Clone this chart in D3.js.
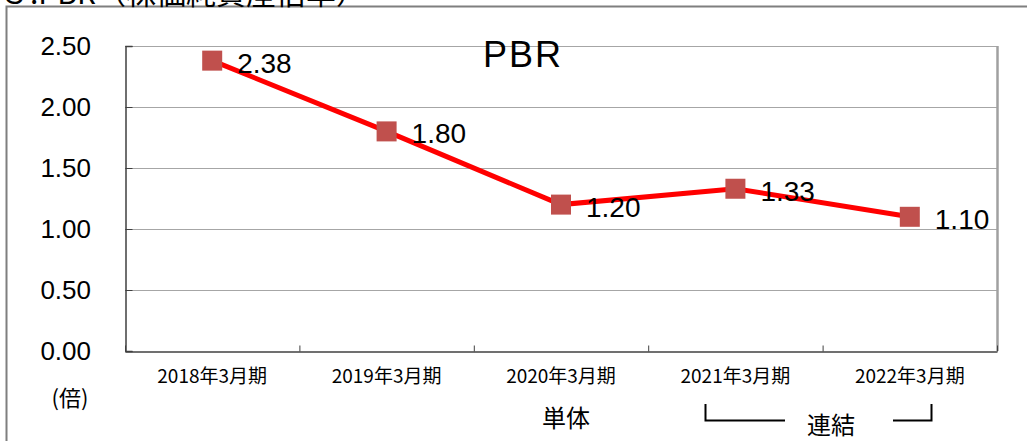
<!DOCTYPE html>
<html>
  <head>
    <meta charset="UTF-8" />
    <style>
      body { margin: 0; background: #fff; }
      svg { display: block; }
      text { font-family: "Liberation Sans", Arial, sans-serif; }
      .jp { font-family: "Noto Sans CJK JP", sans-serif; }
    </style>
  </head>
  <body>
    <svg></svg>
    <script src="https://d3js.org/d3.v7.min.js"></script>
    <script>
      let width = 1027,
        height = 441;

      // chart data
      let periods = ["2018年3月期", "2019年3月期", "2020年3月期", "2021年3月期", "2022年3月期"];
      let pbr = [2.38, 1.8, 1.2, 1.33, 1.1];
      let yTicks = [0, 0.5, 1, 1.5, 2, 2.5];

      let margin = { left: 125, right: 30, top: 46, bottom: 90 };

      let svg = d3.select("svg").attr("width", width).attr("height", height);

      // outer frame, cut at the top and right
      svg.append("path")
        .attr("d", "M6.5,441V6.5H1030")
        .attr("fill", "none")
        .attr("stroke", "#7f7f7f")
        .attr("stroke-width", 2);

      // heading cut off by the frame (as in the source picture)
      svg.append("text")
        .attr("class", "jp")
        .attr("x", 0)
        .attr("y", 4)
        .attr("font-size", 30)
        .attr("fill", "#000")
        .text("３.PBR（株価純資産倍率）");

      let x = d3.scaleBand()
        .domain(periods)
        .range([margin.left, width - margin.right]);

      let y = d3.scaleLinear()
        .domain([0, 2.5])
        .range([height - margin.bottom, margin.top]);

      // gridlines
      svg.append("g")
        .selectAll("line")
        .data(yTicks.filter((d) => d > 0))
        .join("line")
        .attr("x1", margin.left)
        .attr("x2", width - margin.right)
        .attr("y1", (d) => Math.round(y(d)) + 0.5)
        .attr("y2", (d) => Math.round(y(d)) + 0.5)
        .attr("stroke", "#a6a6a6")
        .attr("stroke-width", 1);

      // right border of plot area
      svg.append("line")
        .attr("x1", width - margin.right + 0.5)
        .attr("x2", width - margin.right + 0.5)
        .attr("y1", y(2.5))
        .attr("y2", y(0))
        .attr("stroke", "#a0a0a0")
        .attr("stroke-width", 2.5);

      // y axis
      let yAxis = svg.append("g")
        .attr("transform", `translate(${margin.left + 0.5},0)`)
        .call(d3.axisRight(y).tickValues(yTicks).tickSize(7).tickFormat(""));
      yAxis.select(".domain").attr("stroke", "#404040").attr("stroke-width", 1.5);
      yAxis.selectAll(".tick line").attr("stroke", "#404040");

      svg.append("g")
        .selectAll("text")
        .data(yTicks)
        .join("text")
        .attr("x", 91)
        .attr("y", (d) => y(d))
        .attr("dy", "0.36em")
        .attr("text-anchor", "end")
        .attr("font-size", 26)
        .text((d) => d.toFixed(2));

      // x axis with ticks between categories
      let xAxis = svg.append("g")
        .attr("transform", `translate(0,${Math.round(y(0)) + 0.5})`)
        .call(
          d3.axisTop(d3.scaleLinear().domain([0, periods.length]).range(x.range()))
            .ticks(periods.length)
            .tickSize(6)
            .tickSizeOuter(0)
            .tickFormat("")
        );
      xAxis.select(".domain").attr("stroke", "#404040").attr("stroke-width", 1.5);
      xAxis.selectAll(".tick line").attr("stroke", "#404040");

      svg.append("g")
        .selectAll("text")
        .data(periods)
        .join("text")
        .attr("class", "jp")
        .attr("x", (d) => x(d) + x.bandwidth() / 2)
        .attr("y", 383)
        .attr("text-anchor", "middle")
        .attr("font-size", 19)
        .text((d) => d);

      // title
      svg.append("text")
        .attr("x", 523)
        .attr("y", 67)
        .attr("text-anchor", "middle")
        .attr("font-size", 36)
        .attr("letter-spacing", 2)
        .text("PBR");

      // line
      let line = d3.line()
        .x((d, i) => x(periods[i]) + x.bandwidth() / 2)
        .y((d) => y(d));

      svg.append("path")
        .datum(pbr)
        .attr("d", line)
        .attr("fill", "none")
        .attr("stroke", "#ff0000")
        .attr("stroke-width", 5);

      svg.append("g")
        .selectAll("rect")
        .data(pbr)
        .join("rect")
        .attr("x", (d, i) => x(periods[i]) + x.bandwidth() / 2 - 10)
        .attr("y", (d) => y(d) - 10)
        .attr("width", 20)
        .attr("height", 20)
        .attr("fill", "#c0504d");

      svg.append("g")
        .selectAll("text")
        .data(pbr)
        .join("text")
        .attr("x", (d, i) => x(periods[i]) + x.bandwidth() / 2 + 25)
        .attr("y", (d) => y(d) + 2)
        .attr("dy", "0.36em")
        .attr("font-size", 28)
        .text((d) => d.toFixed(2));

      // unit and segment notes
      svg.append("text")
        .attr("class", "jp")
        .attr("x", 70)
        .attr("y", 406)
        .attr("text-anchor", "middle")
        .attr("font-size", 22)
        .text("(倍)");

      svg.append("text")
        .attr("class", "jp")
        .attr("x", 566)
        .attr("y", 427)
        .attr("text-anchor", "middle")
        .attr("font-size", 24)
        .text("単体");

      svg.append("text")
        .attr("class", "jp")
        .attr("x", 831)
        .attr("y", 434)
        .attr("text-anchor", "middle")
        .attr("font-size", 24)
        .text("連結");

      svg.append("path")
        .attr("d", "M705.5,404V420.5H785M893,420.5H931.5V404")
        .attr("fill", "none")
        .attr("stroke", "#000")
        .attr("stroke-width", 2);
    </script>
  </body>
</html>
